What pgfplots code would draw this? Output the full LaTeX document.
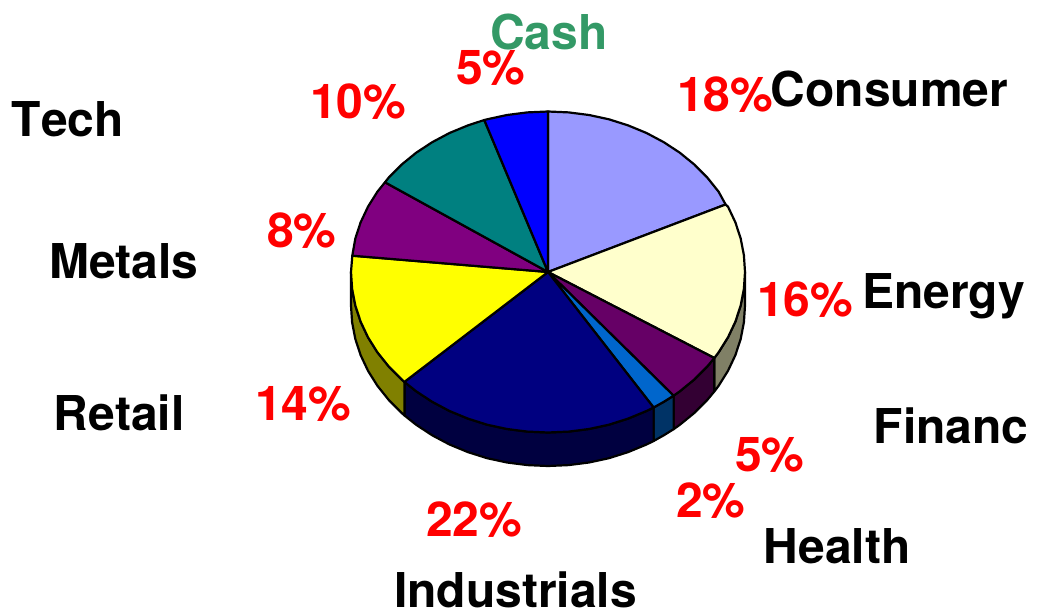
\documentclass[border=0pt]{standalone}
\usepackage{fontspec}
\setmainfont[Kerning=Off]{TeX Gyre Heros}
\usepackage{pgfplots}
\pgfplotsset{compat=1.18}
\definecolor{cConsumer}{HTML}{9999FF}
\definecolor{cEnergy}{HTML}{FFFFCC}
\definecolor{cFinanc}{HTML}{660066}
\definecolor{cHealth}{HTML}{0066CC}
\definecolor{cIndustrials}{HTML}{000080}
\definecolor{cRetail}{HTML}{FFFF00}
\definecolor{cMetals}{HTML}{800080}
\definecolor{cTech}{HTML}{008080}
\definecolor{cCash}{HTML}{0000FF}
\definecolor{wEnergy}{HTML}{808066}
\definecolor{wFinanc}{HTML}{330033}
\definecolor{wHealth}{HTML}{003366}
\definecolor{wIndustrials}{HTML}{000040}
\definecolor{wRetail}{HTML}{808000}
\definecolor{lCash}{HTML}{339966}
\begin{document}
\begin{tikzpicture}
\begin{axis}[
  scale only axis, width=1047pt, height=612pt,
  xmin=0, xmax=1047, ymin=0, ymax=612, y dir=reverse,
  hide axis, clip=false,
  every axis plot/.style={draw=black, line width=2.2pt, line join=round, mark=none},
]
\path (axis cs:0,0) rectangle (axis cs:1047,612);
% side walls
\addplot[fill=wEnergy] coordinates {(745,272)(743.9,288.8)(740.7,305.4)(735.4,321.6)(728,337.3)(718.6,352.3)(714.3,358)(714.3,391.5)(718.6,385.8)(728,370.8)(735.4,355.1)(740.7,338.9)(743.9,322.3)(745,305.5)} -- cycle;
\addplot[fill=wFinanc] coordinates {(714.3,358)(707.4,366.3)(694.4,379.4)(679.8,391.3)(673.6,395.7)(673.6,429.2)(679.8,424.8)(694.4,412.9)(707.4,399.8)(714.3,391.5)} -- cycle;
\addplot[fill=wHealth] coordinates {(673.6,395.7)(663.8,401.8)(653.6,407.5)(653.6,441)(663.8,435.3)(673.6,429.2)} -- cycle;
\addplot[fill=wIndustrials] coordinates {(653.6,407.5)(646.5,411)(628.1,418.6)(608.9,424.7)(589,429)(568.6,431.6)(548,432.5)(527.4,431.6)(507,429)(487.1,424.7)(467.9,418.6)(449.5,411)(432.2,401.8)(416.2,391.3)(404.4,381.9)(404.4,415.4)(416.2,424.8)(432.2,435.3)(449.5,444.5)(467.9,452.1)(487.1,458.2)(507,462.5)(527.4,465.1)(548,466)(568.6,465.1)(589,462.5)(608.9,458.2)(628.1,452.1)(646.5,444.5)(653.6,441)} -- cycle;
\addplot[fill=wRetail] coordinates {(404.4,381.9)(401.6,379.4)(388.6,366.3)(377.4,352.3)(368,337.3)(360.6,321.6)(355.3,305.4)(352.1,288.8)(351,272)(351,305.5)(352.1,322.3)(355.3,338.9)(360.6,355.1)(368,370.8)(377.4,385.8)(388.6,399.8)(401.6,412.9)(404.4,415.4)} -- cycle;
% top faces
\addplot[fill=cConsumer] coordinates {(548,272)(548,111.5)(568.6,112.4)(589,115)(608.9,119.3)(628.1,125.4)(646.5,133)(663.8,142.2)(679.8,152.7)(694.4,164.6)(707.4,177.7)(718.6,191.7)(725.6,204.5)} -- cycle;
\addplot[fill=cEnergy] coordinates {(548,272)(725.6,204.5)(728,206.7)(735.4,222.4)(740.7,238.6)(743.9,255.2)(745,272)(743.9,288.8)(740.7,305.4)(735.4,321.6)(728,337.3)(718.6,352.3)(714.3,358)} -- cycle;
\addplot[fill=cFinanc] coordinates {(548,272)(714.3,358)(707.4,366.3)(694.4,379.4)(679.8,391.3)(673.6,395.7)} -- cycle;
\addplot[fill=cHealth] coordinates {(548,272)(673.6,395.7)(663.8,401.8)(653.6,407.5)} -- cycle;
\addplot[fill=cIndustrials] coordinates {(548,272)(653.6,407.5)(646.5,411)(628.1,418.6)(608.9,424.7)(589,429)(568.6,431.6)(548,432.5)(527.4,431.6)(507,429)(487.1,424.7)(467.9,418.6)(449.5,411)(432.2,401.8)(416.2,391.3)(404.4,381.9)} -- cycle;
\addplot[fill=cRetail] coordinates {(548,272)(404.4,381.9)(401.6,379.4)(388.6,366.3)(377.4,352.3)(368,337.3)(360.6,321.6)(355.3,305.4)(352.1,288.8)(351,272)(352.3,255.7)} -- cycle;
\addplot[fill=cMetals] coordinates {(548,272)(352.3,255.7)(355.3,238.6)(360.6,222.4)(368,206.7)(377.4,191.7)(385,182.3)} -- cycle;
\addplot[fill=cTech] coordinates {(548,272)(385,182.3)(388.6,177.7)(401.6,164.6)(416.2,152.7)(432.2,142.2)(449.5,133)(467.9,125.4)(484.3,120)} -- cycle;
\addplot[fill=cCash] coordinates {(548,272)(484.3,120)(487.1,119.3)(507,115)(527.4,112.4)(548,111.5)} -- cycle;
% labels
\tikzset{lab/.style={anchor=base west, inner sep=0pt, font=\fontsize{48}{50}\selectfont\bfseries}}
\node[lab, text=lCash] at (axis cs:490,50) {Cash};
\node[lab] at (axis cs:770.5,107) {Consumer};
\node[lab] at (axis cs:11.5,137) {Tech};
\node[lab] at (axis cs:49,279) {Metals};
\node[lab] at (axis cs:862,309) {Energy};
\node[lab] at (axis cs:873.5,443) {Financ};
\node[lab] at (axis cs:763.5,563) {Health};
\node[lab] at (axis cs:394,607) {Industrials};
\node[lab] at (axis cs:53.5,430) {Retail};
\node[lab, text=red] at (axis cs:456,85) {5\%};
\node[lab, text=red] at (axis cs:677,112) {18\%};
\node[lab, text=red] at (axis cs:310,119) {10\%};
\node[lab, text=red] at (axis cs:267,248) {8\%};
\node[lab, text=red] at (axis cs:757,317) {16\%};
\node[lab, text=red] at (axis cs:735,471) {5\%};
\node[lab, text=red] at (axis cs:676,517) {2\%};
\node[lab, text=red] at (axis cs:426,536.5) {22\%};
\node[lab, text=red] at (axis cs:255,420) {14\%};
\end{axis}
\end{tikzpicture}
\end{document}
